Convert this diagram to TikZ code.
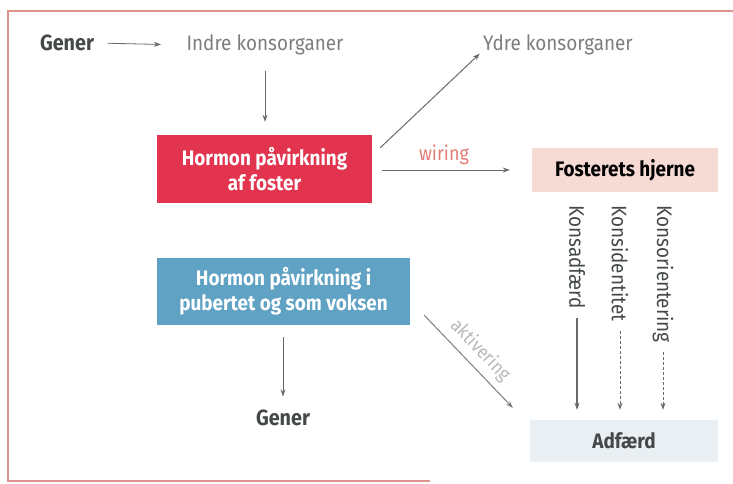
\documentclass[tikz,border=0pt]{standalone}
\usepackage{fontspec}
\setmainfont[FakeStretch=0.9]{Fira Sans}
\usetikzlibrary{arrows.meta,calc}
\definecolor{framered}{RGB}{222,146,140}
\definecolor{labelgray}{RGB}{125,125,125}
\definecolor{textdark}{RGB}{68,72,72}
\definecolor{arrowgray}{RGB}{105,105,105}
\definecolor{hormonred}{RGB}{226,52,78}
\definecolor{hormonblue}{RGB}{96,162,196}
\definecolor{brainpink}{RGB}{246,219,213}
\definecolor{behavblue}{RGB}{234,239,244}
\definecolor{wiringred}{RGB}{226,125,118}
\tikzset{
  lbl/.style={text=labelgray,font=\fontsize{21}{23}\selectfont},
  boxlbl/.style={font=\bfseries\fontsize{21}{25}\selectfont,align=center,inner sep=0pt},
  arr/.style={draw=arrowgray,line width=1pt,-{Stealth[length=7pt,width=5pt]}}
}
\begin{document}
\begin{tikzpicture}[x=1pt,y=-1pt]
    \useasboundingbox (0,0) rectangle (733,484);
    \draw[framered,line width=1.5pt] (430,481) -- (8,481) -- (8,11) -- (733,11);

    \node[text=textdark,font=\bfseries\fontsize{22}{24}\selectfont] (gener1) at (67,43) {Gener};
    \node[lbl] (indre) at (265,45) {Indre konsorganer};
    \node[lbl] (ydre) at (558,45) {Ydre konsorganer};

    \node[boxlbl,fill=hormonred,text=white,minimum width=215pt,minimum height=68pt] (foster) at (264.5,169) {Hormon påvirkning\\af foster};
    \node[boxlbl,fill=brainpink,text=black,minimum width=186pt,minimum height=44pt] (hjerne) at (625,170) {Fosterets hjerne};
    \node[boxlbl,fill=hormonblue,text=white,minimum width=253pt,minimum height=67pt] (pubertet) at (283.5,291.5) {Hormon påvirkning i\\pubertet og som voksen};
    \node[text=textdark,font=\bfseries\fontsize{22}{24}\selectfont] (gener2) at (283,418) {Gener};
    \node[boxlbl,fill=behavblue,text=textdark,minimum width=188pt,minimum height=42pt] (adfaerd) at (624,441) {Adfærd};

    \node[text=textdark,font=\fontsize{21}{23}\selectfont,rotate=-90,anchor=west] (konsadf) at (577,202) {Konsadfærd};
    \node[text=textdark,font=\fontsize{21}{23}\selectfont,rotate=-90,anchor=west] (konsid) at (620,202) {Konsidentitet};
    \node[text=textdark,font=\fontsize{21}{23}\selectfont,rotate=-90,anchor=west] (konsor) at (663,202) {Konsorientering};

    % connectors
    \draw[arr,line width=0.8pt,shorten <=10pt,shorten >=22pt] (gener1.east) -- (indre.west);
    \draw[arr,shorten <=12pt,shorten >=13pt] (indre.south) -- (indre.south |- foster.north);
    \draw[arr] ($(foster.north east)+(8,13)$) -- ($(ydre.south west)+(0,-5)$);
    \draw[arr,shorten <=10pt,shorten >=22pt] (foster.east |- hjerne.west) -- node[above=1pt,text=wiringred,font=\fontsize{20}{22}\selectfont,pos=0.45] (wiring) {wiring} (hjerne.west);
    \draw[arr,shorten <=12pt,shorten >=10pt] (pubertet.south -| gener2) -- (gener2.north);
    \draw[arr,draw=labelgray] ($(pubertet.south east)+(14,-10)$) -- node[sloped,above=3pt,text=labelgray!55,font=\fontsize{19}{21}\selectfont] (aktiv) {aktivering} ($(adfaerd.north west)+(-17,-12)$);
    \draw[arr,line width=1.2pt,shorten <=6pt,shorten >=10pt] (konsadf.east) -- (konsadf.east |- adfaerd.north);
    \draw[arr,densely dashed,shorten <=6pt,shorten >=10pt] (konsid.east) -- (konsid.east |- adfaerd.north);
    \draw[arr,densely dashed,shorten <=6pt,shorten >=10pt] (konsor.east) -- (konsor.east |- adfaerd.north);
\end{tikzpicture}
\end{document}
